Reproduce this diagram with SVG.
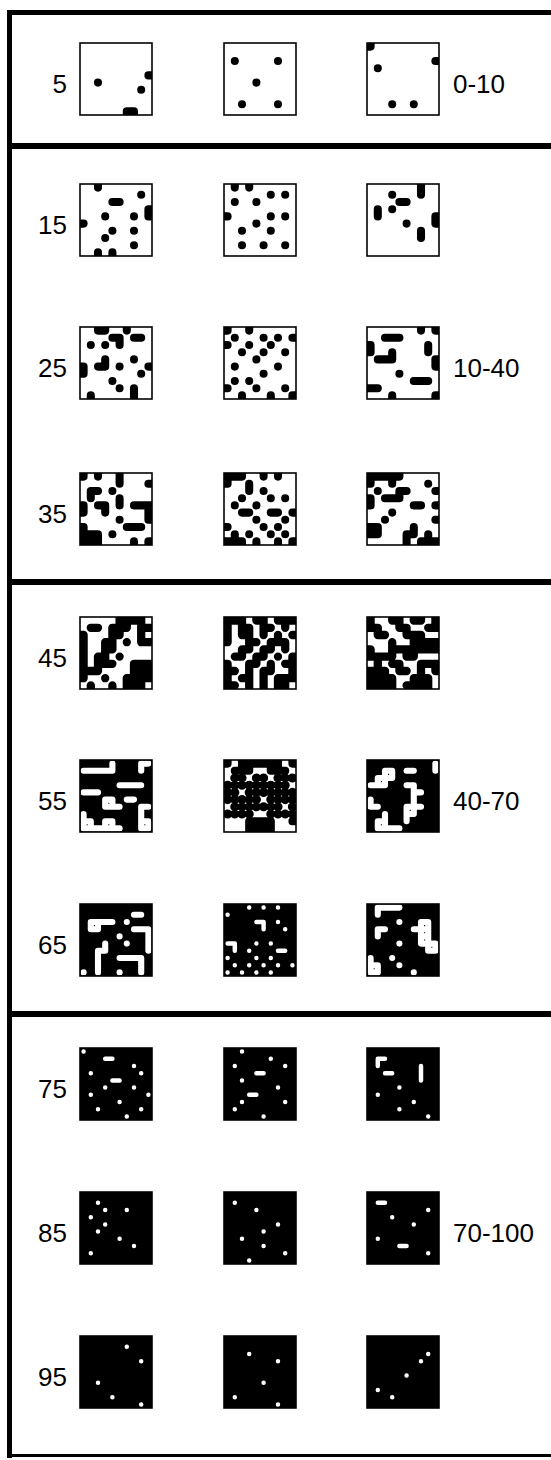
<svg xmlns="http://www.w3.org/2000/svg" width="551" height="1460" viewBox="0 0 551 1460">
<style>
.k{fill:none;stroke:#000;stroke-width:1.12;stroke-linecap:round;stroke-linejoin:round;clip-path:url(#c)}
.k2{stroke-width:1.15}
.dt{fill:none;stroke:#000;stroke-width:1.27;stroke-linecap:round;clip-path:url(#c)}
.w{fill:none;stroke:#fff;stroke-width:.85;stroke-linecap:round;stroke-linejoin:round}
.w2{stroke-width:.62}
.f{fill:none;stroke:#000;stroke-width:.22}
.bk{fill:#000}
.fr{fill:#000}
text{font-family:"Liberation Sans",Arial,Helvetica,sans-serif;font-size:26px;fill:#000}
.l{text-anchor:end}
</style>
<defs><clipPath id="c" clipPathUnits="userSpaceOnUse"><rect width="10" height="10"/></clipPath></defs>
<rect width="551" height="1460" fill="#fff"/>
<g id="frame">
<rect class="fr" x="7" y="10" width="5" height="1448"/>
<rect class="fr" x="7" y="10" width="544" height="5"/>
<rect class="fr" x="7" y="143" width="544" height="6"/>
<rect class="fr" x="7" y="579" width="544" height="6"/>
<rect class="fr" x="7" y="1011" width="544" height="6"/>
<rect class="fr" x="7" y="1454" width="544" height="3"/>
</g>
<g id="labels">
<text class="l" x="67" y="93">5</text>
<text class="l" x="67" y="234">15</text>
<text class="l" x="67" y="377">25</text>
<text class="l" x="67" y="523">35</text>
<text class="l" x="67" y="667">45</text>
<text class="l" x="67" y="810">55</text>
<text class="l" x="67" y="954">65</text>
<text class="l" x="67" y="1098">75</text>
<text class="l" x="67" y="1242">85</text>
<text class="l" x="67" y="1386">95</text>
<text x="453" y="93">0-10</text>
<text x="453" y="377">10-40</text>
<text x="453" y="810">40-70</text>
<text x="453" y="1242">70-100</text>
</g>
<g id="p5a" transform="translate(80 43) scale(7.2)"><path class="k" d="M9.5 4.5H11M2.5 5.5H2.5M8.5 6.5H8.5M6.5 9.5H7.5M6.5 9.5V11M7.5 9.5V11"/><rect class="f" width="10" height="10"/></g>
<g id="p5b" transform="translate(224 43) scale(7.2)"><path class="k" d="M1.5 2.5H1.5M7.5 2.5H7.5M4.5 5.5H4.5M2.5 8.5H2.5M7.5 8.5H7.5"/><rect class="f" width="10" height="10"/></g>
<g id="p5c" transform="translate(367 43) scale(7.2)"><path class="k" d="M-1 .5H.5M.5 -1V.5M9.5 2.5H11M1.5 3.5H1.5M3.5 8.5H3.5M6.5 8.5H6.5"/><rect class="f" width="10" height="10"/></g>
<g id="p15a" transform="translate(80 184) scale(7.2)"><path class="k" d="M2.5 .5H2.5M8.5 1.5H8.5M4.5 2.5H5.5M9.5 3.5H11M3.5 4.5H3.5M7.5 4.5H7.5M9.5 4.5H11M-1 5.5H.5M4.5 6.5H4.5M7.5 6.5H7.5M3.5 7.5H3.5M7.5 8.5H7.5M2.5 9.5H2.5M4.5 9.5H4.5M2.5 -1V.5M2.5 9.5V11M4.5 9.5V11M9.5 3.5V4.5"/><rect class="f" width="10" height="10"/></g>
<g id="p15b" transform="translate(224 184) scale(7.2)"><path class="k" d="M1.5 .5H1.5M3.5 .5H3.5M6.5 1.5H6.5M8.5 1.5H8.5M1.5 2.5H1.5M4.5 2.5H4.5M-1 4.5H.5M6.5 4.5H6.5M8.5 4.5H8.5M4.5 5.5H4.5M2.5 6.5H2.5M6.5 6.5H6.5M2.5 8.5H2.5M5.5 8.5H5.5M8.5 8.5H8.5M1.5 -1V.5M3.5 -1V.5"/><rect class="f" width="10" height="10"/></g>
<g id="p15c" transform="translate(367 184) scale(7.2)"><path class="k" d="M7.5 .5H7.5M3.5 1.5H3.5M7.5 1.5H7.5M4.5 2.5H5.5M1.5 3.5H1.5M3.5 3.5H3.5M1.5 4.5H1.5M9.5 4.5H11M5.5 5.5H5.5M9.5 5.5H11M7.5 6.5H7.5M7.5 7.5H7.5M7.5 -1V1.5M1.5 3.5V4.5M9.5 4.5V5.5M7.5 6.5V7.5"/><rect class="f" width="10" height="10"/></g>
<g id="p25a" transform="translate(80 327) scale(7.2)"><path class="k" d="M2.5 .5H3.5M6.5 .5H6.5M4.5 1.5H5.5M7.5 1.5H8.5M1.5 2.5H1.5M3.5 2.5H3.5M5.5 2.5H5.5M3.5 4.5H3.5M7.5 4.5H7.5M-1 5.5H.5M2.5 5.5H3.5M5.5 5.5H5.5M9.5 5.5H11M-1 6.5H.5M8.5 6.5H8.5M4.5 7.5H4.5M5.5 8.5H5.5M7.5 8.5H7.5M1.5 9.5H1.5M7.5 9.5H7.5M2.5 -1V.5M3.5 -1V.5M6.5 -1V.5M5.5 1.5V2.5M3.5 4.5V5.5M.5 5.5V6.5M7.5 8.5V11M1.5 9.5V11"/><rect class="f" width="10" height="10"/></g>
<g id="p25b" transform="translate(224 327) scale(7.2)"><path class="k" d="M-1 .5H.5M3.5 .5H3.5M1.5 1.5H1.5M5.5 1.5H5.5M7.5 1.5H7.5M9.5 1.5H11M-1 2.5H.5M3.5 2.5H3.5M6.5 2.5H6.5M2.5 3.5H2.5M5.5 3.5H5.5M8.5 3.5H8.5M4.5 4.5H4.5M1.5 5.5H1.5M7.5 5.5H7.5M5.5 6.5H5.5M1.5 7.5H1.5M3.5 7.5H3.5M-1 8.5H.5M4.5 8.5H4.5M8.5 8.5H8.5M2.5 9.5H2.5M6.5 9.5H6.5M9.5 9.5H11M.5 -1V.5M3.5 -1V.5M2.5 9.5V11M6.5 9.5V11M9.5 9.5V11"/><rect class="f" width="10" height="10"/></g>
<g id="p25c" transform="translate(367 327) scale(7.2)"><path class="k" d="M7.5 .5H7.5M9.5 .5H11M2.5 1.5H4.5M-1 2.5H.5M8.5 2.5H8.5M-1 3.5H.5M3.5 3.5H3.5M8.5 3.5H8.5M1.5 4.5H3.5M9.5 4.5H11M9.5 5.5H11M4.5 6.5H4.5M6.5 7.5H8.5M-1 8.5H1.5M3.5 9.5H3.5M9.5 9.5H11M7.5 -1V.5M9.5 -1V.5M.5 2.5V3.5M8.5 2.5V3.5M3.5 3.5V4.5M9.5 4.5V5.5M3.5 9.5V11M9.5 9.5V11"/><rect class="f" width="10" height="10"/></g>
<g id="p35a" transform="translate(80 473) scale(7.2)"><path class="k" d="M-1 .5H.5M2.5 .5H2.5M5.5 .5H5.5M5.5 1.5H5.5M9.5 1.5H11M1.5 2.5H2.5M4.5 2.5H4.5M1.5 3.5H1.5M5.5 3.5H5.5M-1 4.5H.5M2.5 4.5H3.5M5.5 4.5H5.5M7.5 4.5H11M-1 5.5H.5M3.5 5.5H3.5M9.5 5.5H11M5.5 6.5H5.5M9.5 6.5H11M-1 7.5H.5M6.5 7.5H8.5M-1 8.5H2.5M4.5 8.5H4.5M-1 9.5H2.5M7.5 9.5H7.5M9.5 9.5H11M.5 -1V.5M.5 4.5V5.5M.5 7.5V11M1.5 2.5V3.5M1.5 8.5V11M2.5 -1V.5M2.5 8.5V11M3.5 4.5V5.5M5.5 -1V1.5M5.5 3.5V4.5M7.5 9.5V11M9.5 4.5V6.5M9.5 9.5V11"/><rect class="f" width="10" height="10"/></g>
<g id="p35b" transform="translate(224 473) scale(7.2)"><path class="k" d="M-1 .5H2.5M5.5 .5H5.5M7.5 .5H7.5M-1 1.5H.5M3.5 1.5H3.5M3.5 2.5H3.5M5.5 2.5H5.5M2.5 3.5H2.5M6.5 3.5H6.5M8.5 3.5H8.5M1.5 4.5H1.5M4.5 4.5H4.5M2.5 5.5H3.5M6.5 5.5H7.5M9.5 5.5H11M4.5 6.5H4.5M8.5 6.5H8.5M-1 7.5H.5M5.5 7.5H5.5M7.5 7.5H7.5M1.5 8.5H1.5M3.5 8.5H3.5M6.5 8.5H6.5M8.5 8.5H8.5M-1 9.5H2.5M4.5 9.5H4.5M7.5 9.5H7.5M9.5 9.5H11M.5 -1V1.5M.5 9.5V11M1.5 -1V.5M1.5 8.5V11M2.5 -1V.5M2.5 9.5V11M3.5 1.5V2.5M4.5 9.5V11M5.5 -1V.5M7.5 -1V.5M7.5 9.5V11M9.5 9.5V11"/><rect class="f" width="10" height="10"/></g>
<g id="p35c" transform="translate(367 473) scale(7.2)"><path class="k" d="M-1 .5H4.5M-1 1.5H.5M3.5 1.5H3.5M8.5 1.5H8.5M1.5 2.5H1.5M4.5 2.5H5.5M9.5 2.5H11M-1 3.5H.5M2.5 3.5H4.5M-1 4.5H.5M6.5 4.5H7.5M9.5 4.5H11M3.5 5.5H3.5M2.5 6.5H2.5M9.5 6.5H11M-1 7.5H1.5M6.5 7.5H6.5M-1 8.5H1.5M5.5 8.5H6.5M8.5 8.5H8.5M5.5 9.5H5.5M7.5 9.5H11M.5 -1V1.5M.5 3.5V4.5M.5 7.5V8.5M1.5 -1V.5M1.5 7.5V8.5M2.5 -1V.5M3.5 -1V1.5M4.5 -1V.5M4.5 2.5V3.5M5.5 8.5V11M6.5 7.5V8.5M7.5 9.5V11M8.5 8.5V11M9.5 9.5V11"/><rect class="f" width="10" height="10"/></g>
<g id="p45a" transform="translate(80 617) scale(7.2)"><path class="k k2" d="M5.5 .5H8.5M1.5 1.5H2.5M4.5 1.5H6.5M8.5 1.5H11M-1 2.5H.5M4.5 2.5H5.5M8.5 2.5H8.5M-1 3.5H.5M3.5 3.5H4.5M6.5 3.5H6.5M8.5 3.5H11M-1 4.5H.5M3.5 4.5H4.5M-1 5.5H.5M2.5 5.5H3.5M5.5 5.5H5.5M-1 6.5H.5M2.5 6.5H4.5M7.5 6.5H11M-1 7.5H2.5M7.5 7.5H11M-1 8.5H.5M3.5 8.5H3.5M6.5 8.5H11M1.5 9.5H1.5M4.5 9.5H4.5M6.5 9.5H8.5M.5 2.5V8.5M1.5 9.5V11M2.5 5.5V7.5M3.5 3.5V6.5M4.5 1.5V4.5M4.5 9.5V11M5.5 -1V2.5M6.5 -1V1.5M6.5 8.5V11M7.5 -1V.5M7.5 6.5V11M8.5 -1V3.5M8.5 6.5V11M9.5 6.5V8.5"/><rect class="f" width="10" height="10"/></g>
<g id="p45b" transform="translate(224 617) scale(7.2)"><path class="k k2" d="M-1 .5H2.5M4.5 .5H5.5M7.5 .5H11M-1 1.5H.5M2.5 1.5H3.5M5.5 1.5H6.5M8.5 1.5H8.5M-1 2.5H.5M2.5 2.5H3.5M5.5 2.5H5.5M7.5 2.5H7.5M9.5 2.5H11M-1 3.5H.5M3.5 3.5H4.5M6.5 3.5H8.5M2.5 4.5H3.5M5.5 4.5H6.5M8.5 4.5H8.5M1.5 5.5H2.5M4.5 5.5H5.5M7.5 5.5H7.5M9.5 5.5H11M-1 6.5H.5M3.5 6.5H4.5M6.5 6.5H6.5M8.5 6.5H11M-1 7.5H1.5M3.5 7.5H3.5M5.5 7.5H6.5M9.5 7.5H11M-1 8.5H.5M2.5 8.5H3.5M5.5 8.5H5.5M7.5 8.5H11M-1 9.5H1.5M3.5 9.5H3.5M5.5 9.5H5.5M7.5 9.5H8.5M.5 -1V3.5M.5 6.5V11M1.5 -1V.5M2.5 -1V2.5M2.5 4.5V5.5M3.5 1.5V4.5M3.5 6.5V11M4.5 -1V.5M4.5 5.5V6.5M5.5 -1V2.5M5.5 4.5V5.5M5.5 7.5V11M6.5 3.5V4.5M6.5 6.5V7.5M7.5 -1V.5M7.5 2.5V3.5M7.5 8.5V11M8.5 -1V1.5M8.5 3.5V4.5M8.5 8.5V11M9.5 -1V.5M9.5 5.5V8.5"/><rect class="f" width="10" height="10"/></g>
<g id="p45c" transform="translate(367 617) scale(7.2)"><path class="k k2" d="M-1 .5H.5M3.5 .5H4.5M6.5 .5H7.5M9.5 .5H11M-1 1.5H1.5M4.5 1.5H5.5M8.5 1.5H11M1.5 2.5H2.5M5.5 2.5H7.5M3.5 3.5H3.5M6.5 3.5H11M-1 4.5H.5M3.5 4.5H11M-1 5.5H3.5M5.5 5.5H6.5M1.5 6.5H1.5M3.5 6.5H4.5M7.5 6.5H11M-1 7.5H2.5M4.5 7.5H5.5M9.5 7.5H11M-1 8.5H3.5M6.5 8.5H8.5M-1 9.5H3.5M5.5 9.5H8.5M.5 -1V1.5M.5 4.5V5.5M.5 7.5V11M1.5 1.5V2.5M1.5 5.5V11M2.5 7.5V11M3.5 -1V.5M3.5 3.5V5.5M3.5 8.5V11M4.5 -1V1.5M4.5 6.5V7.5M5.5 1.5V2.5M5.5 4.5V5.5M6.5 -1V.5M6.5 2.5V5.5M6.5 8.5V11M7.5 -1V.5M7.5 2.5V4.5M7.5 6.5V11M8.5 3.5V4.5M8.5 8.5V11M9.5 -1V1.5M9.5 3.5V4.5M9.5 6.5V7.5"/><rect class="f" width="10" height="10"/></g>
<g id="p55a" transform="translate(80 760) scale(7.2)"><rect class="bk" width="10" height="10"/><path class="w" d="M4.5 .5H4.5M8.5 .5H9.5M.5 1.5H4.5M8.5 1.5H8.5M5.5 3.5H8.5M.5 4.5H2.5M3.5 5.5H4.5M6.5 5.5H7.5M3.5 6.5H5.5M8.5 6.5H9.5M.5 7.5H.5M8.5 7.5H8.5M.5 8.5H1.5M3.5 8.5H4.5M8.5 8.5H9.5M.5 9.5H5.5M8.5 9.5H9.5M.5 7.5V9.5M1.5 8.5V9.5M3.5 5.5V6.5M3.5 8.5V9.5M4.5 .5V1.5M4.5 5.5V6.5M4.5 8.5V9.5M8.5 .5V1.5M8.5 6.5V9.5M9.5 8.5V9.5"/><rect class="f" width="10" height="10"/></g>
<g id="p55b" transform="translate(224 760) scale(7.2)"><path class="k" d="M-1 .5H.5M2.5 .5H7.5M9.5 .5H11M1.5 1.5H3.5M6.5 1.5H8.5M.5 -1V.5M2.5 -1V1.5M3.5 -1V1.5M4.5 -1V.5M5.5 -1V.5M6.5 -1V1.5M7.5 -1V1.5M9.5 -1V.5M3.5 8.5H6.5M9.5 8.5H11M3.5 9.5H6.5M3.5 8.5V11M4.5 8.5V11M5.5 8.5V11M6.5 8.5V11"/><path class="dt" d="M1.5 2.5h0M2.5 2.5h0M4.5 2.5h0M5.5 2.5h0M7.5 2.5h0M8.5 2.5h0M9.5 2.5h0M.5 3.5h0M1.5 3.5h0M2.5 3.5h0M3.5 3.5h0M4.5 3.5h0M5.5 3.5h0M6.5 3.5h0M7.5 3.5h0M8.5 3.5h0M.5 4.5h0M1.5 4.5h0M3.5 4.5h0M4.5 4.5h0M5.5 4.5h0M6.5 4.5h0M7.5 4.5h0M8.5 4.5h0M9.5 4.5h0M.5 5.5h0M1.5 5.5h0M2.5 5.5h0M3.5 5.5h0M4.5 5.5h0M6.5 5.5h0M7.5 5.5h0M8.5 5.5h0M9.5 5.5h0M1.5 6.5h0M2.5 6.5h0M3.5 6.5h0M4.5 6.5h0M5.5 6.5h0M6.5 6.5h0M7.5 6.5h0M9.5 6.5h0M.5 7.5h0M1.5 7.5h0M2.5 7.5h0M3.5 7.5h0M6.5 7.5h0M7.5 7.5h0M8.5 7.5h0M9.5 7.5h0"/><rect class="f" width="10" height="10"/></g>
<g id="p55c" transform="translate(367 760) scale(7.2)"><rect class="bk" width="10" height="10"/><path class="w" d="M9.5 .5H9.5M2.5 1.5H3.5M5.5 1.5H6.5M9.5 1.5H9.5M1.5 2.5H3.5M.5 3.5H2.5M5.5 3.5H6.5M6.5 4.5H7.5M.5 5.5H.5M6.5 5.5H6.5M.5 6.5H1.5M5.5 6.5H7.5M2.5 7.5H2.5M5.5 7.5H6.5M1.5 8.5H2.5M5.5 8.5H5.5M1.5 9.5H4.5M9.5 .5V1.5M2.5 1.5V3.5M2.5 7.5V9.5M3.5 1.5V2.5M1.5 2.5V3.5M1.5 8.5V9.5M.5 5.5V6.5M6.5 3.5V7.5M5.5 6.5V8.5"/><rect class="f" width="10" height="10"/></g>
<g id="p65a" transform="translate(80 904) scale(7.2)"><rect class="bk" width="10" height="10"/><path class="w" d="M7.5 1.5H8.5M1.5 2.5H4.5M6.5 2.5H6.5M1.5 3.5H2.5M7.5 3.5H9.5M5.5 4.5H5.5M9.5 4.5H9.5M3.5 5.5H3.5M6.5 5.5H6.5M9.5 5.5H9.5M2.5 6.5H3.5M9.5 6.5H9.5M2.5 7.5H2.5M5.5 7.5H8.5M2.5 8.5H2.5M8.5 8.5H8.5M.5 9.5H.5M2.5 9.5H2.5M5.5 9.5H5.5M8.5 9.5H8.5M1.5 2.5V3.5M2.5 2.5V3.5M2.5 6.5V9.5M3.5 5.5V6.5M9.5 3.5V6.5M8.5 7.5V9.5"/><rect class="f" width="10" height="10"/></g>
<g id="p65b" transform="translate(224 904) scale(7.2)"><rect class="bk" width="10" height="10"/><path class="w w2" d="M3.5 .5H3.5M5.5 .5H5.5M7.5 .5H7.5M.5 1.5H.5M4.5 2.5H5.5M7.5 2.5H7.5M5.5 3.5H5.5M8.5 3.5H8.5M.5 5.5H1.5M4.5 5.5H4.5M6.5 5.5H6.5M1.5 6.5H1.5M3.5 6.5H3.5M7.5 6.5H8.5M.5 7.5H.5M4.5 7.5H4.5M6.5 7.5H6.5M1.5 8.5H1.5M3.5 8.5H3.5M5.5 8.5H5.5M7.5 8.5H7.5M9.5 8.5H9.5M.5 9.5H.5M2.5 9.5H2.5M4.5 9.5H4.5M6.5 9.5H6.5M5.5 2.5V3.5M1.5 5.5V6.5"/><rect class="f" width="10" height="10"/></g>
<g id="p65c" transform="translate(367 904) scale(7.2)"><rect class="bk" width="10" height="10"/><path class="w" d="M1.5 .5H4.5M1.5 1.5H1.5M4.5 2.5H4.5M7.5 2.5H8.5M1.5 3.5H2.5M6.5 3.5H8.5M1.5 4.5H1.5M7.5 4.5H8.5M4.5 5.5H4.5M7.5 5.5H9.5M8.5 6.5H9.5M.5 7.5H.5M3.5 7.5H3.5M.5 8.5H1.5M4.5 8.5H4.5M.5 9.5H1.5M6.5 9.5H6.5M1.5 .5V1.5M1.5 3.5V4.5M1.5 8.5V9.5M7.5 2.5V5.5M8.5 2.5V6.5M9.5 5.5V6.5M.5 7.5V9.5"/><rect class="f" width="10" height="10"/></g>
<g id="p75a" transform="translate(80 1048) scale(7.2)"><rect class="bk" width="10" height="10"/><path class="w w2" d="M.5 .5H.5M3.5 1.5H4.5M7.5 2.5H7.5M1.5 3.5H1.5M8.5 3.5H8.5M4.5 4.5H5.5M3.5 5.5H3.5M7.5 5.5H7.5M1.5 6.5H1.5M9.5 6.5H9.5M5.5 7.5H5.5M2.5 8.5H2.5M8.5 8.5H8.5M6.5 9.5H6.5"/><rect class="f" width="10" height="10"/></g>
<g id="p75b" transform="translate(224 1048) scale(7.2)"><rect class="bk" width="10" height="10"/><path class="w w2" d="M2.5 .5H2.5M6.5 1.5H6.5M1.5 2.5H1.5M8.5 2.5H8.5M4.5 3.5H5.5M2.5 4.5H2.5M7.5 5.5H7.5M3.5 6.5H4.5M2.5 7.5H2.5M8.5 7.5H8.5M1.5 8.5H1.5M5.5 9.5H5.5"/><rect class="f" width="10" height="10"/></g>
<g id="p75c" transform="translate(367 1048) scale(7.2)"><rect class="bk" width="10" height="10"/><path class="w w2" d="M1.5 1.5H2.5M1.5 2.5H1.5M7.5 2.5H7.5M2.5 3.5H3.5M7.5 3.5H7.5M7.5 4.5H7.5M4.5 5.5H4.5M1.5 6.5H1.5M6.5 7.5H6.5M4.5 8.5H4.5M8.5 9.5H8.5M1.5 1.5V2.5M7.5 2.5V4.5"/><rect class="f" width="10" height="10"/></g>
<g id="p85a" transform="translate(80 1192) scale(7.2)"><rect class="bk" width="10" height="10"/><path class="w w2" d="M2.5 1.5H2.5M3.5 2.5H3.5M6.5 2.5H6.5M1.5 3.5H1.5M3.5 4.5H3.5M2.5 5.5H2.5M5.5 6.5H5.5M7.5 7.5H7.5M1.5 8.5H1.5"/><rect class="f" width="10" height="10"/></g>
<g id="p85b" transform="translate(224 1192) scale(7.2)"><rect class="bk" width="10" height="10"/><path class="w w2" d="M1.5 1.5H1.5M4.5 2.5H4.5M7.5 4.5H7.5M5.5 5.5H5.5M2.5 6.5H2.5M5.5 7.5H5.5M8.5 8.5H8.5M3.5 9.5H3.5"/><rect class="f" width="10" height="10"/></g>
<g id="p85c" transform="translate(367 1192) scale(7.2)"><rect class="bk" width="10" height="10"/><path class="w w2" d="M1.5 1.5H2.5M8.5 2.5H8.5M3.5 3.5H3.5M6.5 4.5H6.5M1.5 6.5H1.5M4.5 7.5H5.5M8.5 8.5H8.5"/><rect class="f" width="10" height="10"/></g>
<g id="p95a" transform="translate(80 1336) scale(7.2)"><rect class="bk" width="10" height="10"/><path class="w w2" d="M6.5 1.5H6.5M8.5 3.5H8.5M2.5 6.5H2.5M4.5 8.5H4.5M8.5 9.5H8.5"/><rect class="f" width="10" height="10"/></g>
<g id="p95b" transform="translate(224 1336) scale(7.2)"><rect class="bk" width="10" height="10"/><path class="w w2" d="M3.5 2.5H3.5M7.5 3.5H7.5M5.5 6.5H5.5M1.5 8.5H1.5M7.5 9.5H7.5"/><rect class="f" width="10" height="10"/></g>
<g id="p95c" transform="translate(367 1336) scale(7.2)"><rect class="bk" width="10" height="10"/><path class="w w2" d="M8.5 2.5H8.5M7.5 3.5H7.5M5.5 5.5H5.5M1.5 7.5H1.5M3.5 8.5H3.5"/><rect class="f" width="10" height="10"/></g>
</svg>
